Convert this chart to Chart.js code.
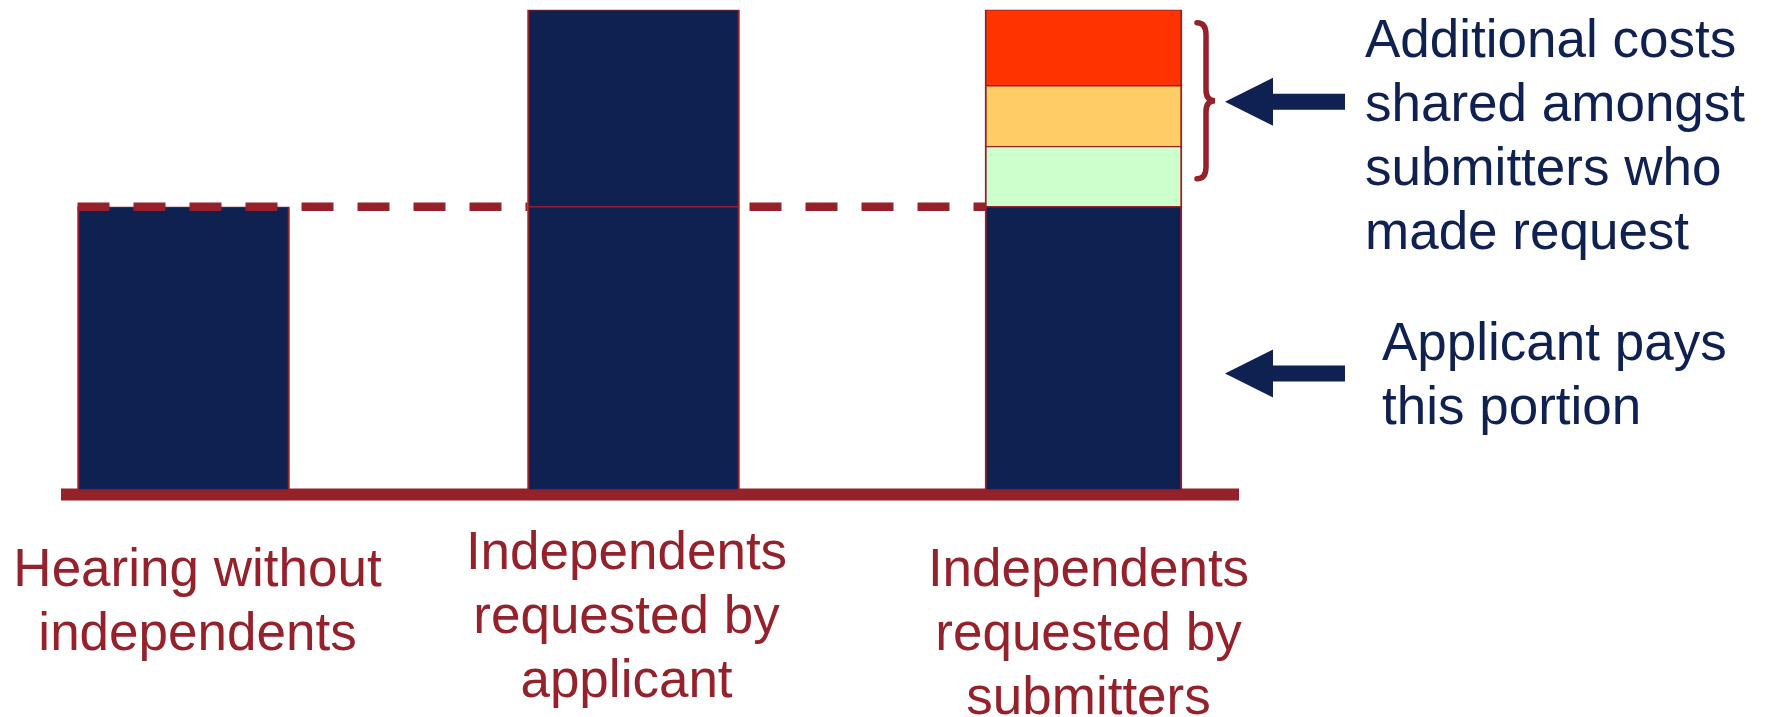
<!DOCTYPE html>
<html>
<head>
<meta charset="utf-8">
<title>Cost sharing for independent commissioners</title>
<script src="https://cdn.jsdelivr.net/npm/chart.js@4.4.1/dist/chart.umd.min.js"></script>
<style>
  html, body { margin: 0; padding: 0; background: #ffffff; }
  #wrap { width: 1771px; height: 717px; position: relative; }
</style>
</head>
<body>
<div id="wrap"><canvas id="chart" width="1771" height="717"></canvas></div>
<script>
// ---- data ----
const categories = [
  ['Hearing without', 'independents'],
  ['Independents', 'requested by', 'applicant'],
  ['Independents', 'requested by', 'submitters']
];
// base hearing cost carried by the applicant (relative units)
const applicantShare = [100, 100, 100];
// extra cost when the applicant asks for independents
const applicantRequestExtra = [null, 69.5, null];
// extra cost split between the submitters who asked for independents
const submitterShareA = [null, null, 21.2];
const submitterShareB = [null, null, 21.5];
const submitterShareC = [null, null, 26.8];

const notes = {
  shared: ['Additional costs', 'shared amongst', 'submitters who', 'made request'],
  applicant: ['Applicant pays', 'this portion']
};

// ---- styles ----
const NAVY = '#0f2150';
const DARK_RED = '#95212b';
const FONT = '"Liberation Sans", Arial, Helvetica, sans-serif';
const FONT_SIZE = 53;
const columnWidth = [212, 212, 197];
const labelShiftX = [14, -7, 5];
const labelFirstBaseline = [96, 79, 96];   // below the zero line
const LINE_H = 64;

const pick = (arr, cols) => arr.map((v, i) => (cols.includes(i) ? v : null));
const border = { top: 1, bottom: 1, left: 2, right: 2 };

function seg(label, data, color, width) {
  return {
    label, data,
    backgroundColor: color,
    borderColor: DARK_RED,
    borderWidth: border,
    borderSkipped: false,
    barThickness: width,
    clip: false
  };
}

const datasets = [
  seg('Applicant pays', pick(applicantShare, [0, 1]), NAVY, columnWidth[0]),
  seg('Applicant pays (submitter request)', pick(applicantShare, [2]), NAVY, columnWidth[2]),
  seg('Independents for applicant', applicantRequestExtra, NAVY, columnWidth[1]),
  seg('Submitter share A', submitterShareA, '#ccffcc', columnWidth[2]),
  seg('Submitter share B', submitterShareB, '#ffcc66', columnWidth[2]),
  seg('Submitter share C', submitterShareC, '#ff3300', columnWidth[2])
];

function barRect(chart, dsIndex, col) {
  const el = chart.getDatasetMeta(dsIndex).data[col];
  const p = el.getProps(['x', 'y', 'base', 'width'], true);
  return { left: p.x - p.width / 2, right: p.x + p.width / 2, top: p.y, bottom: p.base, x: p.x };
}

const decorations = {
  id: 'decorations',
  beforeDatasetsDraw(chart) {
    const ctx = chart.ctx;
    const y0 = chart.scales.y.getPixelForValue(0);
    ctx.save();
    ctx.fillStyle = DARK_RED;
    ctx.fillRect(61, y0 - 1.5, 1178, 12);
    ctx.restore();
  },
  afterDatasetsDraw(chart) {
    const ctx = chart.ctx;
    const ys = chart.scales.y;
    const y0 = ys.getPixelForValue(0);
    const b1 = barRect(chart, 0, 0);
    const b2top = barRect(chart, 2, 1);
    const b2 = barRect(chart, 0, 1);
    const b3 = barRect(chart, 1, 2);
    const b3top = barRect(chart, 5, 2);

    // dashed reference line at the applicant's base cost
    const yBase = ys.getPixelForValue(applicantShare[0]);
    ctx.save();
    ctx.beginPath();
    ctx.rect(0, 0, chart.width, chart.height);
    ctx.rect(b2.left, b2top.top, b2.right - b2.left, b2.bottom - b2top.top);
    ctx.clip('evenodd');
    ctx.strokeStyle = DARK_RED;
    ctx.lineWidth = 8.5;
    ctx.setLineDash([32, 24]);
    ctx.beginPath();
    ctx.moveTo(b1.left, yBase);
    ctx.lineTo(b3.left, yBase);
    ctx.stroke();
    ctx.restore();

    // curly brace beside the submitter shares
    const bx = b3.right + 15;
    const bTop = b3top.top + 13;
    const bBot = yBase - 28;
    const bMid = (bTop + bBot) / 2;
    ctx.save();
    ctx.strokeStyle = DARK_RED;
    ctx.lineWidth = 5.5;
    ctx.lineCap = 'round';
    ctx.beginPath();
    ctx.moveTo(bx, bTop);
    ctx.quadraticCurveTo(bx + 9, bTop, bx + 9, bTop + 12);
    ctx.lineTo(bx + 9, bMid - 11);
    ctx.quadraticCurveTo(bx + 9, bMid, bx + 18, bMid);
    ctx.quadraticCurveTo(bx + 9, bMid, bx + 9, bMid + 11);
    ctx.lineTo(bx + 9, bBot - 12);
    ctx.quadraticCurveTo(bx + 9, bBot, bx, bBot);
    ctx.stroke();
    ctx.restore();

    // arrows
    function arrow(tipX, cy) {
      ctx.beginPath();
      ctx.moveTo(tipX, cy);
      ctx.lineTo(tipX + 48, cy - 24);
      ctx.lineTo(tipX + 48, cy - 8);
      ctx.lineTo(tipX + 120, cy - 8);
      ctx.lineTo(tipX + 120, cy + 8);
      ctx.lineTo(tipX + 48, cy + 8);
      ctx.lineTo(tipX + 48, cy + 24);
      ctx.closePath();
      ctx.fill();
    }
    ctx.save();
    ctx.fillStyle = NAVY;
    arrow(1225, bMid + 1);
    arrow(1225, 373.5);

    // side notes
    ctx.font = FONT_SIZE + 'px ' + FONT;
    ctx.textAlign = 'left';
    ctx.textBaseline = 'alphabetic';
    notes.shared.forEach((t, i) => ctx.fillText(t, 1365, 57 + i * LINE_H));
    notes.applicant.forEach((t, i) => ctx.fillText(t, 1382, 360 + i * LINE_H));

    // category labels under the baseline
    ctx.fillStyle = DARK_RED;
    ctx.textAlign = 'center';
    const centers = [b1.x, b2.x, b3.x];
    categories.forEach((lines, c) => {
      lines.forEach((t, i) => {
        ctx.fillText(t, centers[c] + labelShiftX[c], y0 + labelFirstBaseline[c] + i * LINE_H);
      });
    });
    ctx.restore();
  }
};

new Chart(document.getElementById('chart'), {
  type: 'bar',
  data: { labels: categories, datasets },
  options: {
    responsive: false,
    animation: false,
    devicePixelRatio: 1,
    layout: { padding: { left: 183.5, right: 687.5, top: 8.4, bottom: 227 } },
    plugins: { legend: { display: false }, tooltip: { enabled: false } },
    scales: {
      x: { stacked: true, display: false, offset: false },
      y: { stacked: true, display: false, min: 0, max: 170 }
    }
  },
  plugins: [decorations]
});
</script>
</body>
</html>
